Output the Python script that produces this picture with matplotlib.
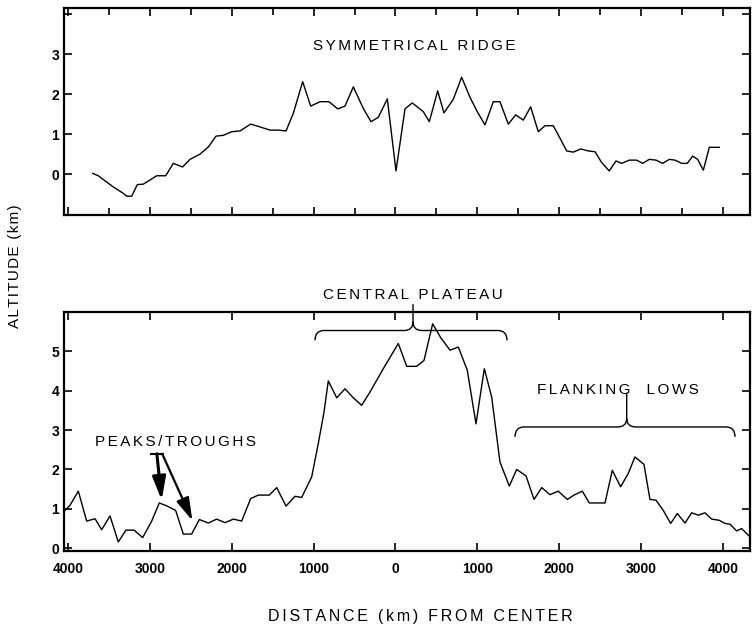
import matplotlib
matplotlib.use("Agg")
import matplotlib.pyplot as plt
from matplotlib.path import Path
from matplotlib.patches import PathPatch

# ---------------- data (distance in km, negative = left of center) ----------------
top_x = [-3698, -3630, -3447, -3324, -3283, -3222, -3153, -3080, -2917, -2807,
         -2714, -2600, -2510, -2388, -2286, -2192, -2103, -2001, -1899, -1769,
         -1655, -1533, -1431, -1337, -1248, -1134, -1036, -922, -812, -706,
         -617, -515, -393, -299, -210, -100, 6, 116, 205, 340,
         413, 515, 592, 706, 808, 910, 999, 1093, 1195, 1276,
         1378, 1468, 1561, 1651, 1744, 1826, 1927, 2001, 2091, 2172,
         2262, 2355, 2437, 2518, 2611, 2693, 2763, 2856, 2946, 3019,
         3100, 3182, 3263, 3345, 3414, 3496, 3564, 3630, 3691, 3760,
         3833, 3955]
top_y = [0.02, -0.04, -0.32, -0.48, -0.55, -0.55, -0.26, -0.25, -0.04, -0.04,
         0.27, 0.18, 0.37, 0.50, 0.68, 0.95, 0.97, 1.06, 1.08, 1.25,
         1.18, 1.10, 1.10, 1.08, 1.52, 2.31, 1.70, 1.81, 1.81, 1.63,
         1.70, 2.18, 1.64, 1.31, 1.42, 1.88, 0.08, 1.63, 1.78, 1.56,
         1.31, 2.08, 1.53, 1.87, 2.42, 1.92, 1.56, 1.23, 1.81, 1.81,
         1.25, 1.48, 1.35, 1.68, 1.06, 1.21, 1.21, 0.93, 0.58, 0.55,
         0.63, 0.58, 0.56, 0.29, 0.08, 0.33, 0.27, 0.35, 0.35, 0.27,
         0.37, 0.35, 0.27, 0.37, 0.35, 0.27, 0.27, 0.45, 0.37, 0.10,
         0.67, 0.67]

bot_x = [-4037, -3976, -3874, -3772, -3670, -3589, -3487, -3386, -3292, -3194,
         -3088, -2978, -2885, -2787, -2685, -2592, -2490, -2396, -2286, -2184,
         -2082, -1981, -1879, -1769, -1676, -1541, -1451, -1337, -1227, -1146,
         -1024, -943, -873, -821, -718, -617, -515, -413, -311, -149,
         34, 137, 259, 348, 454, 552, 666, 767, 877, 983,
         1085, 1175, 1276, 1390, 1480, 1594, 1692, 1786, 1887, 1988,
         2098, 2180, 2282, 2367, 2470, 2559, 2648, 2750, 2843, 2925,
         3035, 3108, 3182, 3271, 3361, 3442, 3536, 3617, 3699, 3780,
         3862, 3955, 4025, 4086, 4167, 4228, 4330]
bot_y = [0.96, 1.09, 1.45, 0.69, 0.75, 0.47, 0.82, 0.16, 0.46, 0.46,
         0.27, 0.69, 1.15, 1.07, 0.96, 0.36, 0.36, 0.73, 0.64, 0.74,
         0.65, 0.74, 0.69, 1.26, 1.35, 1.35, 1.54, 1.07, 1.32, 1.29,
         1.81, 2.66, 3.46, 4.25, 3.82, 4.05, 3.82, 3.63, 3.97, 4.56,
         5.20, 4.62, 4.62, 4.77, 5.70, 5.35, 5.03, 5.11, 4.52, 3.16,
         4.56, 3.84, 2.19, 1.58, 2.00, 1.84, 1.24, 1.54, 1.36, 1.45,
         1.24, 1.35, 1.45, 1.15, 1.15, 1.15, 1.98, 1.56, 1.90, 2.32,
         2.13, 1.24, 1.22, 0.96, 0.63, 0.88, 0.64, 0.90, 0.84, 0.90,
         0.74, 0.71, 0.63, 0.61, 0.44, 0.50, 0.29]

x_ticks = [-4000, -3000, -2000, -1000, 0, 1000, 2000, 3000, 4000]
x_tick_labels = [str(abs(v)) for v in x_ticks]
top_minor_ticks = [-3500, -2500, -1500, -500, 500, 1500, 2500, 3500]
top_y_ticks = [0, 1, 2, 3, 4]
top_y_labels = ["0", "1", "2", "3", ""]
bot_y_ticks = [0, 1, 2, 3, 4, 5]
bot_y_labels = ["0", "1", "2", "3", "4", "5"]

# ---------------- figure ----------------
plt.rcParams['font.family'] = ['Liberation Sans', 'DejaVu Sans']
HAIR = "\u200a"
WIDE = HAIR * 2


def spaced(s, sep=WIDE):
    """Wide letter spacing like the lettering-guide text of the original."""
    return sep.join(s)


fig = plt.figure(figsize=(7.52, 6.28), dpi=100)

XLIM = (-4049, 4330)
ax1 = fig.add_axes([64/752, 1-215/628, (750-64)/752, (215-8)/628])
ax2 = fig.add_axes([64/752, 1-551/628, (750-64)/752, (551-312)/628])

for ax in (ax1, ax2):
    ax.set_xlim(*XLIM)
    for s in ax.spines.values():
        s.set_linewidth(1.6)
    ax.tick_params(direction='in', top=True, right=True, length=6, width=1.2,
                   labelsize=10)

# top panel
ax1.plot(top_x, top_y, color='black', lw=1.0)
ax1.set_ylim(-1.02, 4.15)
ax1.set_xticks(x_ticks)
ax1.set_xticks(top_minor_ticks, minor=True)
ax1.set_xticklabels([])
ax1.tick_params(which='minor', direction='in', top=True, bottom=True, length=5, width=1.2)
ax1.set_yticks(top_y_ticks)
ax1.set_yticklabels(top_y_labels, fontweight='bold', fontsize=10)
ax1.text(226, 3.2, spaced("SYMMETRICAL RIDGE"), ha='center', va='center', fontsize=11)

# bottom panel
ax2.plot(bot_x, bot_y, color='black', lw=1.0)
ax2.set_ylim(-0.07, 6.0)
ax2.set_xticks(x_ticks)
ax2.set_xticklabels(x_tick_labels, fontweight='bold', fontsize=10)
ax2.set_yticks(bot_y_ticks)
ax2.set_yticklabels(bot_y_labels, fontweight='bold', fontsize=10)
ax2.tick_params(axis='x', pad=8)


def brace(ax, x0, x1, xc, y_line, y_end, y_tip, y_stem, r):
    verts = [(x0, y_end), (x0, y_line), (x0 + r, y_line), (xc - r, y_line),
             (xc, y_line), (xc, y_tip),
             (x1, y_end), (x1, y_line), (x1 - r, y_line), (xc + r, y_line),
             (xc, y_line), (xc, y_tip),
             (xc, y_tip), (xc, y_stem)]
    codes = [Path.MOVETO, Path.CURVE3, Path.CURVE3, Path.LINETO,
             Path.CURVE3, Path.CURVE3,
             Path.MOVETO, Path.CURVE3, Path.CURVE3, Path.LINETO,
             Path.CURVE3, Path.CURVE3,
             Path.MOVETO, Path.LINETO]
    ax.add_patch(PathPatch(Path(verts, codes), fc='none', ec='black', lw=1.0,
                           clip_on=False))


brace(ax2, -983, 1362, 214, 5.53, 5.28, 5.75, 6.20, 110)
ax2.text(214, 6.42, spaced("CENTRAL PLATEAU"), ha='center', va='center', fontsize=11,
         clip_on=False)

brace(ax2, 1460, 4147, 2824, 3.08, 2.83, 3.30, 3.95, 110)
ax2.text(2718, 4.02, spaced("FLANKING  LOWS"), ha='center', va='center', fontsize=11)

ax2.text(-2685, 2.70, spaced("PEAKS/TROUGHS"), ha='center', va='center', fontsize=11)
ax2.plot([-2990, -2836], [2.40, 2.40], color='black', lw=1.5)
ax2.annotate('', xy=(-2856, 1.22), xytext=(-2915, 2.40),
             arrowprops=dict(arrowstyle='-|>,head_length=1.4,head_width=0.4',
                             lw=2.2, color='black', shrinkA=0, shrinkB=0))
ax2.annotate('', xy=(-2480, 0.70), xytext=(-2850, 2.40),
             arrowprops=dict(arrowstyle='-|>,head_length=1.4,head_width=0.4',
                             lw=1.6, color='black', shrinkA=0, shrinkB=0))

fig.text(15/752, 1-266/628, spaced("ALTITUDE (km)", HAIR), rotation=90, ha='center',
         va='center', fontsize=11)
fig.text(420/752, 1-617/628, spaced("DISTANCE (km) FROM CENTER"), ha='center',
         va='center', fontsize=11.5)

fig.savefig("out.png", dpi=100)
